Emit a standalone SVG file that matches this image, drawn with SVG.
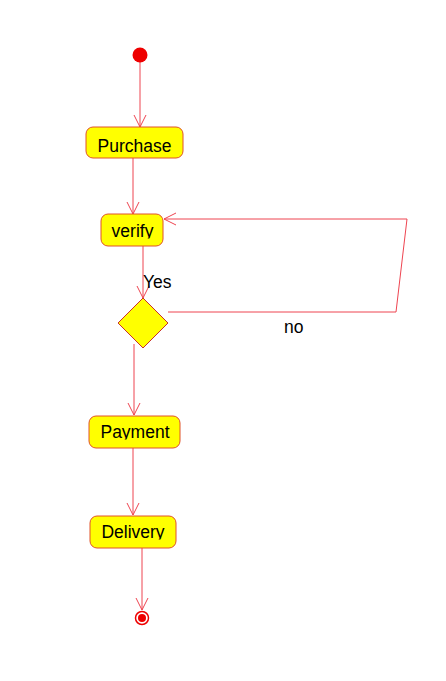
<svg xmlns="http://www.w3.org/2000/svg" width="446" height="681" viewBox="0 0 446 681">
<style>
.node{fill:#ffff00;stroke:#e0522a;stroke-width:1}
.dec{fill:#ffff00;stroke:#c8302a;stroke-width:1}
.edge{fill:none;stroke:#ee4450;stroke-width:1}
.lbl{font-family:"Liberation Sans",Arial,sans-serif;font-size:17.5px;fill:#000}
</style>
<defs>
<marker id="arr" markerUnits="userSpaceOnUse" markerWidth="16" markerHeight="16" refX="0" refY="0" viewBox="-13 -8 16 16" orient="auto" overflow="visible">
<path d="M -12 -6 L 0 0 L -12 6" fill="none" stroke="#ee4450" stroke-width="1"/>
</marker>
<clipPath id="cv"><rect x="100" y="200" width="70" height="38.5"/></clipPath>
<clipPath id="cp"><rect x="85" y="400" width="100" height="39.5"/></clipPath>
<clipPath id="cd"><rect x="85" y="500" width="100" height="39.5"/></clipPath>
</defs>
<rect width="446" height="681" fill="#ffffff"/>
<g id="connectors">
<path class="edge" d="M140 62 L140 127" marker-end="url(#arr)"/>
<path class="edge" d="M133 158 L133 214" marker-end="url(#arr)"/>
<path class="edge" d="M143 246 L143 298" marker-end="url(#arr)"/>
<path class="edge" d="M168 312 L396 312 L407 219 L164 219" marker-end="url(#arr)"/>
<path class="edge" d="M134 344 L134 415" marker-end="url(#arr)"/>
<path class="edge" d="M133 448 L133 515" marker-end="url(#arr)"/>
<path class="edge" d="M142 548 L142 610" marker-end="url(#arr)"/>
<text class="lbl" x="143" y="288">Yes</text>
<text class="lbl" x="284" y="333">no</text>
</g>
<g id="start"><circle cx="140" cy="55" r="7.5" fill="#ee0000"/></g>
<g id="purchase">
<rect class="node" x="86" y="127" width="97" height="31" rx="7"/>
<text class="lbl" x="134.5" y="151.5" text-anchor="middle">Purchase</text>
</g>
<g id="verify">
<rect class="node" x="101" y="214" width="62" height="32" rx="7"/>
<text class="lbl" x="132.5" y="237" text-anchor="middle" clip-path="url(#cv)">verify</text>
</g>
<g id="decision"><path class="dec" d="M143 298 L168 323 L143 348 L118 323 Z"/></g>
<g id="payment">
<rect class="node" x="89" y="416" width="91" height="32" rx="7"/>
<text class="lbl" x="135" y="438" text-anchor="middle" clip-path="url(#cp)">Payment</text>
</g>
<g id="delivery">
<rect class="node" x="90" y="516" width="86" height="32" rx="7"/>
<text class="lbl" x="133" y="538" text-anchor="middle" clip-path="url(#cd)">Delivery</text>
</g>
<g id="end">
<circle cx="142" cy="618" r="6.5" fill="#ffffff" stroke="#ee0000" stroke-width="1.5"/>
<circle cx="142" cy="618" r="4" fill="#ee0000"/>
</g>
</svg>
